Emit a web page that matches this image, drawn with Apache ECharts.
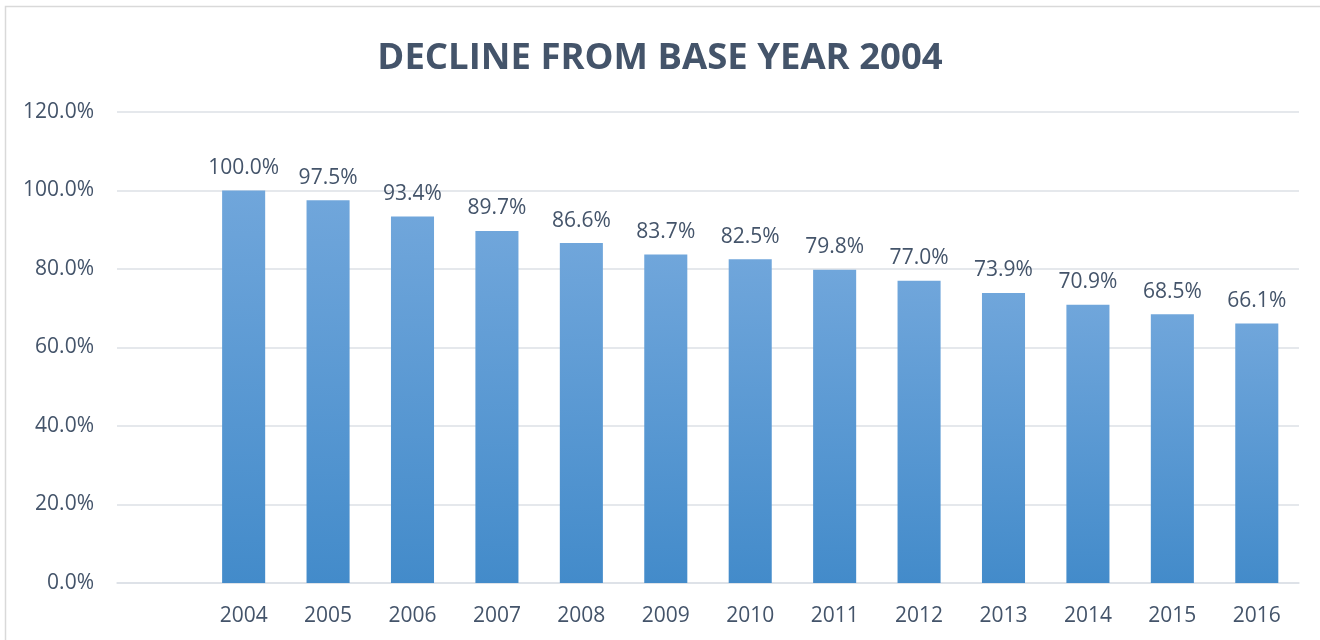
<!DOCTYPE html>
<html>
<head>
<meta charset="utf-8">
<script src="https://cdn.jsdelivr.net/npm/echarts@6/dist/echarts.min.js"></script>
<style>
  html, body { margin: 0; padding: 0; background: #fff; }
  #chart { width: 1320px; height: 640px; }
</style>
</head>
<body>
<div id="chart"></div>
<script>
// first slot is empty in the original sheet
let years = ['', '2004', '2005', '2006', '2007', '2008', '2009', '2010', '2011', '2012', '2013', '2014', '2015', '2016'];
let decline = ['-', 100.0, 97.5, 93.4, 89.7, 86.6, 83.7, 82.5, 79.8, 77.0, 73.9, 70.9, 68.5, 66.1];
let yTicks = [0, 20, 40, 60, 80, 100, 120];

let textCol = '#44546A';
let gridCol = '#DCE0E6';

let myChart = echarts.init(document.getElementById('chart'));
myChart.setOption({
    animation: false,
    textStyle: { fontFamily: 'Open Sans' },
    title: {
        text: 'DECLINE FROM BASE YEAR 2004',
        left: 'center',
        top: 35,
        textStyle: {
            color: textCol,
            fontSize: 36.5,
            fontWeight: 'bold',
            fontFamily: 'Open Sans'
        }
    },
    graphic: [{
        type: 'rect',
        shape: { x: 5.5, y: 6.5, width: 1330, height: 650 },
        style: { fill: 'none', stroke: '#D9D9D9', lineWidth: 1.5 },
        silent: true
    }],
    grid: { left: 117, right: 21, top: 112, bottom: 57 },
    xAxis: {
        type: 'category',
        data: years,
        axisLine: { lineStyle: { color: gridCol, width: 1.5 } },
        axisTick: { show: false },
        axisLabel: { color: textCol, fontSize: 21, margin: 23 }
    },
    yAxis: {
        type: 'value',
        min: yTicks[0],
        max: yTicks[yTicks.length - 1],
        interval: 20,
        axisLine: { show: false },
        axisTick: { show: false },
        splitLine: { lineStyle: { color: gridCol, width: 1.5 } },
        axisLabel: {
            color: textCol,
            fontSize: 21,
            margin: 23,
            formatter: function (v) { return v.toFixed(1) + '%'; }
        }
    },
    series: [{
        type: 'bar',
        data: decline,
        barWidth: '51%',
        itemStyle: {
            color: new echarts.graphic.LinearGradient(0, 0, 0, 1, [
                { offset: 0, color: '#70A6DB' },
                { offset: 1, color: '#438BCA' }
            ])
        },
        label: {
            show: true,
            position: 'top',
            distance: 12,
            color: textCol,
            fontSize: 21,
            formatter: function (p) { return p.value.toFixed(1) + '%'; }
        }
    }]
});
</script>
</body>
</html>
